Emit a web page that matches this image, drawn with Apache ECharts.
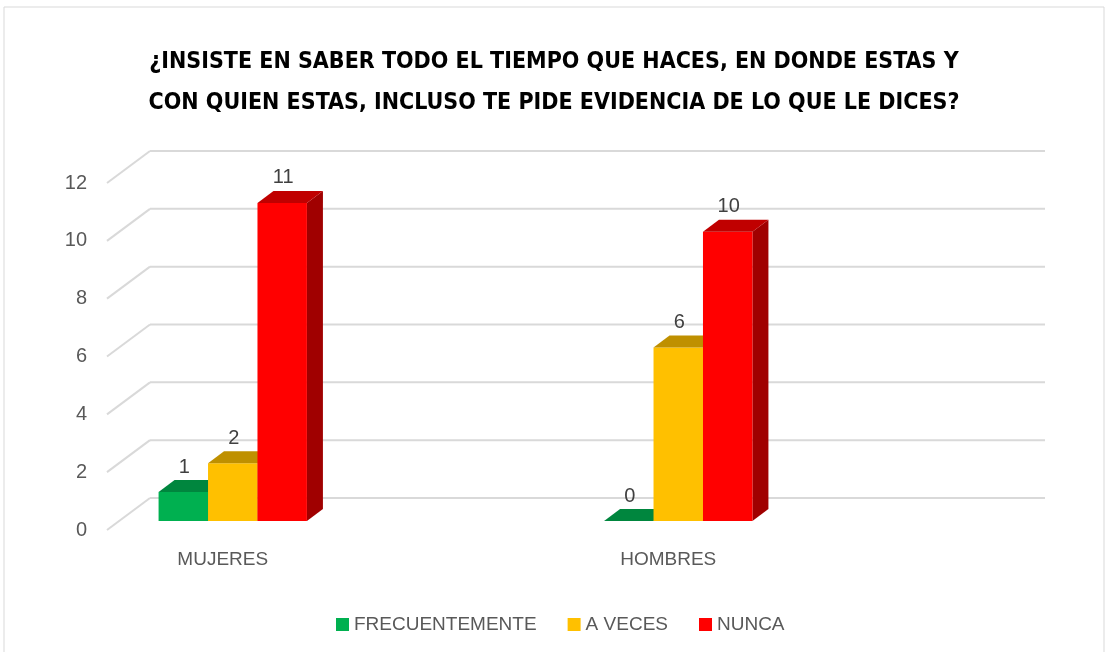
<!DOCTYPE html>
<html lang="es">
<head>
<meta charset="UTF-8">
<title>¿Insiste en saber todo el tiempo que haces?</title>
<script src="https://cdn.jsdelivr.net/npm/echarts@6/dist/echarts.min.js"></script>
<style>
  html, body { margin: 0; padding: 0; width: 100%; height: 100%; background: #fff; overflow: hidden; }
  #chart { width: 1108px; height: 652px; }
</style>
</head>
<body>
<div id="chart"></div>
<script>
// data
var categories = ['MUJERES', 'HOMBRES'];
var seriesNames = ['FRECUENTEMENTE', 'A VECES', 'NUNCA'];
var frecuentemente = [1, 0];
var aVeces = [2, 6];
var nunca = [11, 10];
var yTicks = [0, 2, 4, 6, 8, 10, 12];

// 3D look (pixels)
var WALL_DX = 43, WALL_DY = -32;   // front floor edge -> back wall
var BAR_SHIFT_X = 10, BAR_SHIFT_Y = -9; // front plane -> bar front face
var BAR_DX = 16, BAR_DY = -12;     // bar depth
var BAR_FRAC = 0.111;              // bar width / category band

var palette = [
  { face: '#00b050', top: '#00863e', side: '#007a36' },
  { face: '#ffc000', top: '#bf9000', side: '#a67d00' },
  { face: '#ff0000', top: '#c00000', side: '#a00000' }
];

var FONT = "'Liberation Sans', Arial, sans-serif";

function wallRender(params, api) {
  var v = api.value(0);
  var p = api.coord([0, v]);
  var q = api.coord([1, v]);
  var style = { stroke: '#d9d9d9', lineWidth: 2 };
  return {
    type: 'group',
    children: [
      { type: 'line', shape: { x1: p[0], y1: p[1], x2: p[0] + WALL_DX, y2: p[1] + WALL_DY }, style: style },
      { type: 'line', shape: { x1: p[0] + WALL_DX, y1: p[1] + WALL_DY, x2: q[0] + WALL_DX, y2: q[1] + WALL_DY }, style: style }
    ]
  };
}

function barRender(slot) {
  var c = palette[slot];
  return function (params, api) {
    var cat = api.value(0), val = api.value(1);
    var top = api.coord([cat, val]);
    var base = api.coord([cat, 0]);
    var w = api.size([1, 0])[0] * BAR_FRAC;
    var x0 = top[0] + BAR_SHIFT_X - 1.5 * w + slot * w;
    var yT = top[1] + BAR_SHIFT_Y;
    var yB = base[1] + BAR_SHIFT_Y;
    return {
      type: 'group',
      children: [
        { type: 'polygon', shape: { points: [[x0 + w, yT], [x0 + w, yB], [x0 + w + BAR_DX, yB + BAR_DY], [x0 + w + BAR_DX, yT + BAR_DY]] }, style: { fill: c.side } },
        { type: 'rect', shape: { x: x0, y: yT, width: w, height: yB - yT }, style: { fill: c.face } },
        { type: 'polygon', shape: { points: [[x0, yT], [x0 + w, yT], [x0 + w + BAR_DX, yT + BAR_DY], [x0 + BAR_DX, yT + BAR_DY]] }, style: { fill: c.top } },
        { type: 'text', x: x0 + w / 2 + 1, y: yT - 25, style: { text: String(val), fill: '#404040', font: '20px ' + FONT, align: 'center', verticalAlign: 'middle' } }
      ]
    };
  };
}

function barSeries(name, values, slot) {
  return {
    name: name,
    type: 'custom',
    xAxisIndex: 0,
    yAxisIndex: 0,
    color: palette[slot].face,
    itemStyle: { color: palette[slot].face },
    renderItem: barRender(slot),
    encode: { x: 0, y: 1 },
    data: values.map(function (v, i) { return [i, v]; }),
    z: 3
  };
}

var chart = echarts.init(document.getElementById('chart'), null, { renderer: 'canvas' });

chart.setOption({
  backgroundColor: '#fff',
  animation: false,
  title: {
    text: '¿INSISTE EN SABER TODO EL TIEMPO QUE HACES, EN DONDE ESTAS Y\nCON QUIEN ESTAS, INCLUSO TE PIDE EVIDENCIA DE LO QUE LE DICES?',
    left: 'center',
    top: 42,
    padding: 0,
    textStyle: { fontFamily: "'DejaVu Sans Condensed', sans-serif", fontWeight: 'bold', fontSize: 23, lineHeight: 41, color: '#000' }
  },
  legend: {
    data: seriesNames,
    left: 331,
    top: 610,
    icon: 'rect',
    itemWidth: 13,
    itemHeight: 13,
    itemGap: 31,
    textStyle: { fontFamily: FONT, fontSize: 19, color: '#595959' }
  },
  graphic: [
    { type: 'rect', shape: { x: 4, y: 7, width: 1100, height: 700 }, style: { fill: 'none', stroke: '#d9d9d9', lineWidth: 1 }, silent: true }
  ],
  grid: [
    // front plane for categories / bars
    { left: -5, width: 896, top: 183, height: 347 },
    // front floor edge for walls and value labels
    { left: 107, width: 895, top: 183, height: 347 }
  ],
  xAxis: [
    {
      gridIndex: 0, type: 'category', data: categories,
      axisLine: { show: false }, axisTick: { show: false }, splitLine: { show: false },
      axisLabel: { margin: 20, fontFamily: FONT, fontSize: 19, color: '#595959' }
    },
    { gridIndex: 1, type: 'value', min: 0, max: 1, show: false }
  ],
  yAxis: [
    { gridIndex: 0, type: 'value', min: 0, max: 12, interval: 2, show: false },
    {
      gridIndex: 1, type: 'value', min: 0, max: 12, interval: 2,
      axisLine: { show: false }, axisTick: { show: false }, splitLine: { show: false },
      axisLabel: { margin: 20, fontFamily: FONT, fontSize: 20, color: '#595959' }
    }
  ],
  series: [
    {
      type: 'custom',
      xAxisIndex: 1,
      yAxisIndex: 1,
      silent: true,
      renderItem: wallRender,
      encode: { y: 0 },
      data: yTicks.map(function (t) { return [t]; }),
      z: 1
    },
    barSeries(seriesNames[0], frecuentemente, 0),
    barSeries(seriesNames[1], aVeces, 1),
    barSeries(seriesNames[2], nunca, 2)
  ]
});
</script>
</body>
</html>
